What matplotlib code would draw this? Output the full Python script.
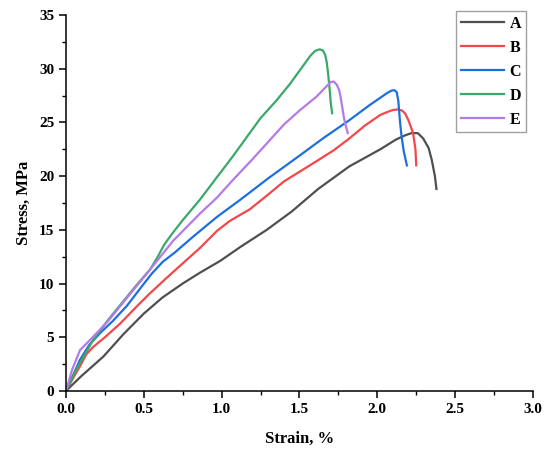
import matplotlib.pyplot as plt
from matplotlib.ticker import MultipleLocator

# strain (%) / stress (MPa)
a_x = [0.0, 0.1, 0.24, 0.37, 0.5, 0.62, 0.75, 0.86, 0.99, 1.12, 1.29, 1.45, 1.62, 1.82, 2.02, 2.12, 2.18, 2.22, 2.26, 2.295, 2.33, 2.35, 2.37, 2.38]
a_y = [0.0, 1.4, 3.2, 5.3, 7.2, 8.7, 10.0, 11.0, 12.1, 13.4, 15.0, 16.7, 18.8, 20.9, 22.5, 23.4, 23.8, 24.0, 24.0, 23.5, 22.6, 21.5, 20.0, 18.8]

b_x = [0.0, 0.05, 0.09, 0.13, 0.175, 0.25, 0.35, 0.45, 0.54, 0.66, 0.775, 0.86, 0.97, 1.05, 1.12, 1.18, 1.30, 1.40, 1.60, 1.72, 1.82, 1.92, 2.02, 2.07, 2.10, 2.13, 2.16, 2.18, 2.20, 2.23, 2.245, 2.25]
b_y = [0.0, 1.3, 2.3, 3.4, 4.1, 5.0, 6.3, 7.8, 9.1, 10.7, 12.2, 13.3, 14.9, 15.8, 16.4, 16.9, 18.3, 19.5, 21.3, 22.4, 23.5, 24.7, 25.7, 26.0, 26.15, 26.2, 26.1, 25.8, 25.2, 24.0, 22.5, 21.0]

c_x = [0.0, 0.05, 0.09, 0.15, 0.22, 0.30, 0.39, 0.48, 0.55, 0.62, 0.70, 0.82, 0.97, 1.12, 1.30, 1.50, 1.65, 1.82, 1.95, 2.02, 2.06, 2.09, 2.11, 2.125, 2.135, 2.145, 2.155, 2.17, 2.19]
c_y = [0.0, 1.6, 2.9, 4.3, 5.4, 6.5, 7.9, 9.6, 10.9, 12.0, 12.9, 14.4, 16.2, 17.8, 19.8, 21.9, 23.5, 25.2, 26.6, 27.3, 27.7, 27.95, 28.0, 27.8, 27.0, 25.2, 23.8, 22.3, 21.0]

d_x = [0.0, 0.05, 0.09, 0.175, 0.27, 0.36, 0.45, 0.54, 0.59, 0.63, 0.68, 0.75, 0.86, 0.97, 1.07, 1.16, 1.25, 1.35, 1.44, 1.52, 1.57, 1.60, 1.63, 1.65, 1.665, 1.675, 1.685, 1.695, 1.70, 1.71]
d_y = [0.0, 1.5, 2.6, 4.75, 6.6, 8.2, 9.8, 11.3, 12.5, 13.6, 14.6, 15.9, 17.8, 19.9, 21.8, 23.6, 25.4, 27.0, 28.6, 30.2, 31.2, 31.65, 31.8, 31.7, 31.3, 30.6, 29.4, 27.9, 26.9, 25.85]

e_x = [0.0, 0.04, 0.09, 0.175, 0.27, 0.36, 0.45, 0.54, 0.69, 0.86, 0.97, 1.07, 1.20, 1.30, 1.40, 1.50, 1.61, 1.67, 1.70, 1.72, 1.74, 1.755, 1.765, 1.775, 1.785, 1.795, 1.805, 1.81]
e_y = [0.0, 2.0, 3.8, 5.05, 6.5, 8.1, 9.7, 11.3, 14.0, 16.5, 18.0, 19.6, 21.6, 23.2, 24.8, 26.1, 27.4, 28.3, 28.75, 28.8, 28.5, 28.0, 27.3, 26.4, 25.5, 24.8, 24.3, 24.0]

labels = ["A", "B", "C", "D", "E"]
colors = ["#4f4f4f", "#f4474a", "#1d6fe0", "#3aa86a", "#b47ae8"]

plt.rcParams["font.family"] = ["Liberation Serif", "DejaVu Serif"]
plt.rcParams["font.weight"] = "bold"

fig = plt.figure(figsize=(5.5, 4.53), dpi=100)
ax = fig.add_axes([0.12, 0.137, 0.849, 0.83])

series = [(a_x, a_y), (b_x, b_y), (c_x, c_y), (d_x, d_y), (e_x, e_y)]
for (xs, ys), lab, col in zip(series, labels, colors):
    ax.plot(xs, ys, color=col, linewidth=1.6, label=lab, solid_joinstyle="round")

ax.set_xlim(0, 3.0)
ax.set_ylim(0, 35)
ax.xaxis.set_major_locator(MultipleLocator(0.5))
ax.xaxis.set_minor_locator(MultipleLocator(0.25))
ax.yaxis.set_major_locator(MultipleLocator(5))
ax.yaxis.set_minor_locator(MultipleLocator(2.5))
ax.set_xticklabels([f"{v:.1f}" for v in ax.get_xticks()])
ax.spines["top"].set_visible(False)
ax.spines["right"].set_visible(False)
for s in ["left", "bottom"]:
    ax.spines[s].set_linewidth(1.1)
ax.tick_params(which="major", direction="out", length=5, width=1.1, labelsize=11)
ax.tick_params(which="minor", direction="out", length=3, width=1.0)
for t in ax.get_xticklabels() + ax.get_yticklabels():
    t.set_fontweight("bold")

ax.set_xlabel("Strain, %", fontsize=12, fontweight="bold", labelpad=11)
ax.set_ylabel("Stress, MPa", fontsize=12, fontweight="bold", labelpad=5)

leg = fig.legend(loc="upper left", bbox_to_anchor=(0.829, 0.976), borderaxespad=0.0,
                 frameon=True, fancybox=False,
                 handlelength=2.7, handletextpad=0.35, labelspacing=0.5, borderpad=0.3,
                 prop={"family": ["Liberation Serif"], "weight": "bold", "size": 11.5})
leg.get_frame().set_edgecolor("#888888")
leg.get_frame().set_linewidth(1.0)

fig.savefig("out.png", dpi=100)
